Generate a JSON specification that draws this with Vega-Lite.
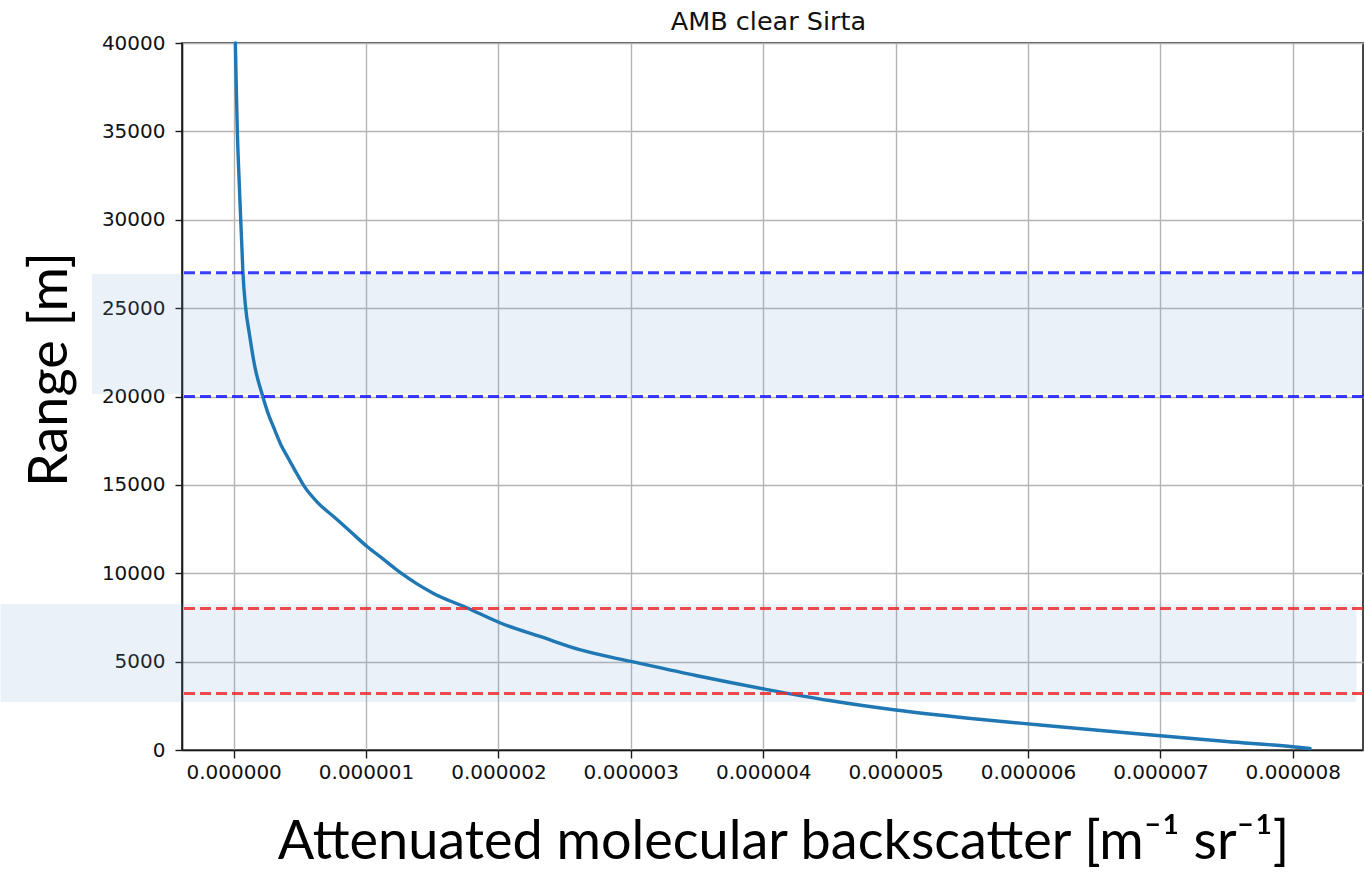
{
  "$schema": "https://vega.github.io/schema/vega-lite/v6.json",
  "autosize": {"type": "none"},
  "padding": {"left": 182, "top": 43, "right": 1, "bottom": 125},
  "width": 1181,
  "height": 707,
  "background": "white",
  "title": {
    "text": "AMB clear Sirta",
    "font": "DejaVu Sans",
    "fontSize": 25.5,
    "fontWeight": "normal",
    "color": "#111111",
    "anchor": "middle",
    "frame": "group",
    "baseline": "alphabetic",
    "offset": 9,
    "dy": 31,
    "dx": -4
  },
  "config": {
    "view": {"stroke": "#1a1a1a", "strokeWidth": 1.6},
    "axis": {
      "grid": true,
      "gridColor": "#b4b4b4",
      "gridWidth": 1.4,
      "domainColor": "#1a1a1a",
      "domainWidth": 1.6,
      "tickColor": "#1a1a1a",
      "tickWidth": 1.4,
      "labelFont": "DejaVu Sans",
      "labelColor": "#111111",
      "titleFont": "Lato",
      "titleFontWeight": "normal",
      "titleColor": "#000000"
    }
  },
  "layer": [
    {
      "description": "Shaded altitude windows",
      "data": {
        "values": [
          {"x_lo": -1.07e-6, "x_hi": 8.54e-6, "r_lo": 20140, "r_hi": 26930},
          {"x_lo": -1.76e-6, "x_hi": 8.48e-6, "r_lo": 2720, "r_hi": 8260}
        ]
      },
      "mark": {"type": "rect", "color": "#73a2d0", "opacity": 0.15},
      "encoding": {
        "x": {"field": "x_lo", "type": "quantitative"},
        "x2": {"field": "x_hi"},
        "y": {"field": "r_lo", "type": "quantitative"},
        "y2": {"field": "r_hi"}
      }
    },
    {
      "description": "Attenuated molecular backscatter profile",
      "data": {
        "values": [
          {"range": 40000, "beta": 1.3e-8},
          {"range": 37500, "beta": 2.0e-8},
          {"range": 35000, "beta": 2.8e-8},
          {"range": 32500, "beta": 4.0e-8},
          {"range": 30100, "beta": 5.3e-8},
          {"range": 28500, "beta": 6.2e-8},
          {"range": 27060, "beta": 7.0e-8},
          {"range": 25080, "beta": 9.0e-8},
          {"range": 23500, "beta": 1.2e-7},
          {"range": 21690, "beta": 1.6e-7},
          {"range": 20086, "beta": 2.17e-7},
          {"range": 19000, "beta": 2.62e-7},
          {"range": 18290, "beta": 3.0e-7},
          {"range": 17300, "beta": 3.55e-7},
          {"range": 16410, "beta": 4.2e-7},
          {"range": 15600, "beta": 4.8e-7},
          {"range": 14900, "beta": 5.35e-7},
          {"range": 14000, "beta": 6.35e-7},
          {"range": 13110, "beta": 7.7e-7},
          {"range": 12300, "beta": 8.9e-7},
          {"range": 11500, "beta": 1.01e-6},
          {"range": 10800, "beta": 1.13e-6},
          {"range": 10030, "beta": 1.26e-6},
          {"range": 9400, "beta": 1.385e-6},
          {"range": 8860, "beta": 1.51e-6},
          {"range": 8050, "beta": 1.76e-6},
          {"range": 7170, "beta": 2.02e-6},
          {"range": 6410, "beta": 2.32e-6},
          {"range": 5660, "beta": 2.62e-6},
          {"range": 4997, "beta": 3.01e-6},
          {"range": 4200, "beta": 3.5e-6},
          {"range": 3434, "beta": 4.02e-6},
          {"range": 2800, "beta": 4.5e-6},
          {"range": 2263, "beta": 5.0e-6},
          {"range": 1800, "beta": 5.55e-6},
          {"range": 1415, "beta": 6.09e-6},
          {"range": 1100, "beta": 6.55e-6},
          {"range": 810, "beta": 7.0e-6},
          {"range": 480, "beta": 7.5e-6},
          {"range": 187, "beta": 8.0e-6},
          {"range": 85, "beta": 8.13e-6}
        ]
      },
      "mark": {"type": "line", "color": "#1f77b4", "strokeWidth": 3.4, "strokeCap": "round", "interpolate": "monotone"},
      "encoding": {
        "x": {
          "field": "beta",
          "type": "quantitative",
          "scale": {"domain": [-3.9e-7, 8.53e-6], "nice": false, "zero": false},
          "axis": {
            "values": [0, 1e-6, 2e-6, 3e-6, 4e-6, 5e-6, 6e-6, 7e-6, 8e-6],
            "format": ".6f",
            "labelFontSize": 20,
            "tickSize": 8,
            "labelPadding": 4,
            "title": "Attenuated molecular backscatter [m⁻¹ sr⁻¹]",
            "titleFontSize": 54,
            "titleX": 601,
            "titleY": 108,
            "titleAlign": "center",
            "titleBaseline": "alphabetic"
          }
        },
        "y": {
          "field": "range",
          "type": "quantitative",
          "scale": {"domain": [0, 40000], "nice": false},
          "axis": {
            "values": [0, 5000, 10000, 15000, 20000, 25000, 30000, 35000, 40000],
            "format": "d",
            "labelFontSize": 20,
            "tickSize": 7,
            "labelPadding": 10,
            "title": "Range [m]",
            "titleFontSize": 54,
            "titleAngle": 270,
            "titleX": -132,
            "titleY": 326,
            "titleAlign": "center",
            "titleBaseline": "middle"
          }
        },
        "order": {"field": "range", "type": "quantitative"}
      }
    },
    {
      "description": "Layer boundaries",
      "data": {
        "values": [
          {"level": 27000, "kind": "upper"},
          {"level": 20000, "kind": "upper"},
          {"level": 8000, "kind": "lower"},
          {"level": 3200, "kind": "lower"}
        ]
      },
      "mark": {"type": "rule", "strokeWidth": 3, "strokeDash": [11, 5], "opacity": 0.85},
      "encoding": {
        "y": {"field": "level", "type": "quantitative"},
        "color": {
          "field": "kind",
          "type": "nominal",
          "scale": {"domain": ["upper", "lower"], "range": ["#1a1aff", "#ee2b2b"]},
          "legend": null
        }
      }
    }
  ]
}
